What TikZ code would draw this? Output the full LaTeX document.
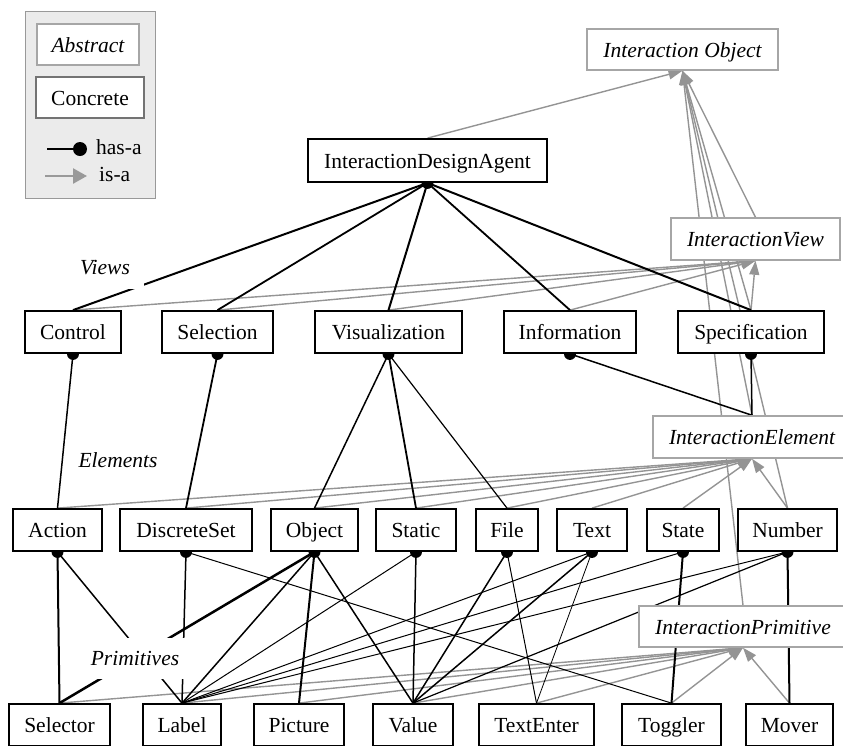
\documentclass[tikz,border=0pt]{standalone}
\usepackage{fontspec}
\setmainfont{Liberation Serif}
\usetikzlibrary{arrows.meta, backgrounds}

\begin{document}
\begin{tikzpicture}[
    x=1pt, y=-1pt,
    every node/.style={font=\fontsize{21.5}{24}\selectfont},
    concrete/.style={rectangle, draw=black, line width=1.8pt, fill=white, minimum height=42pt, inner sep=0pt, text height=18pt, text depth=3pt},
    abstract/.style={rectangle, draw=black!35, line width=1.5pt, fill=white, minimum height=42pt, inner sep=0pt, text height=18pt, text depth=3pt, font=\fontsize{21.5}{24}\selectfont\itshape},
    isa/.style={-{Triangle[length=14pt, width=10pt]}, draw=black!42, line width=1.4pt},
    tag/.style={fill=white, inner xsep=14pt, minimum height=41pt, font=\fontsize{21.5}{24}\selectfont\itshape}
]
    \useasboundingbox (0,0) rectangle (843,745);

    % Legend
    \node[rectangle, draw=black!40, line width=1pt, fill=black!8, minimum width=130pt, minimum height=187pt] (legend) at (90,104.5) {};
    \node[abstract, minimum width=102pt, minimum height=41pt] (abs) at (88,44.5) {Abstract};
    \node[concrete, draw=black!55, line width=1.5pt, minimum width=108pt, minimum height=41pt] (con) at (90,97.5) {Concrete};
    \coordinate (hasaA) at (47,149);
    \coordinate (hasaB) at (80,149);
    \coordinate (isaA) at (45,176);
    \coordinate (isaB) at (87,176);
    \node[anchor=west, inner sep=0pt] (hasatxt) at (96,147) {has-a};
    \node[anchor=west, inner sep=0pt] (isatxt) at (99,174) {is-a};
    \draw[line width=1.2pt] (hasaA) -- (hasaB);
    \fill (hasaB) circle (7pt);
    \draw[-{Triangle[length=14pt, width=15pt]}, draw=black!40, line width=2.5pt] (isaA) -- (isaB);

    % Top of the hierarchy
    \node[abstract, minimum width=191pt, minimum height=41pt] (iobj) at (682.5,49.5) {Interaction Object};
    \node[concrete, minimum width=239pt, minimum height=43pt] (ida) at (427.5,160.5) {InteractionDesignAgent};

    % Views
    \node[abstract, minimum width=169pt] (iview) at (755.5,239) {InteractionView};
    \node[concrete, minimum width=96pt] (ctrl) at (73,332) {Control};
    \node[concrete, minimum width=111pt] (sel) at (217.5,332) {Selection};
    \node[concrete, minimum width=147pt] (vis) at (388.5,332) {Visualization};
    \node[concrete, minimum width=132pt] (info) at (570,332) {Information};
    \node[concrete, minimum width=146pt] (spec) at (751,332) {Specification};

    % Elements
    \node[abstract, minimum width=198pt] (ielem) at (752,437) {InteractionElement};
    \node[concrete, minimum width=89pt] (action) at (57.5,530) {Action};
    \node[concrete, minimum width=132pt] (dset) at (186,530) {DiscreteSet};
    \node[concrete, minimum width=87pt] (obj) at (314.5,530) {Object};
    \node[concrete, minimum width=80pt] (stat) at (416,530) {Static};
    \node[concrete, minimum width=62pt] (file) at (507,530) {File};
    \node[concrete, minimum width=70pt] (txt) at (592,530) {Text};
    \node[concrete, minimum width=72pt] (state) at (683,530) {State};
    \node[concrete, minimum width=99pt] (num) at (787.5,530) {Number};

    % Primitives
    \node[abstract, minimum width=208pt, minimum height=41pt] (iprim) at (743,626.5) {InteractionPrimitive};
    \node[concrete, minimum width=101pt] (selr) at (59.5,725) {Selector};
    \node[concrete, minimum width=78pt] (lbl) at (182,725) {Label};
    \node[concrete, minimum width=90pt] (pic) at (299,725) {Picture};
    \node[concrete, minimum width=80pt] (val) at (413,725) {Value};
    \node[concrete, minimum width=115pt] (tenter) at (536.5,725) {TextEnter};
    \node[concrete, minimum width=99pt] (toggler) at (671.5,725) {Toggler};
    \node[concrete, minimum width=87pt] (mover) at (789.5,725) {Mover};

    % Layer names
    \node[tag] (views) at (105,268) {Views};
    \node[tag] (elements) at (118,460) {Elements};
    \node[tag] (prims) at (135,658) {Primitives};

    \begin{pgfonlayer}{background}
        % is-a
        \foreach \n in {ida, iview, ielem, iprim, spec, num}
            \draw[isa] (\n.north) -- (iobj.south);
        \foreach \n in {ctrl, sel, vis, info, spec}
            \draw[isa] (\n.north) -- (iview.south);
        \foreach \n in {action, dset, obj, stat, file, txt, state, num}
            \draw[isa] (\n.north) -- (ielem.south);
        \foreach \n in {selr, lbl, pic, val, tenter, toggler, mover}
            \draw[isa] (\n.north) -- (iprim.south);

        % has-a
        \foreach \s/\t/\w in {ida/ctrl/2, ida/sel/1.8, ida/vis/2, ida/info/1.8, ida/spec/2,
                ctrl/action/1.5, sel/dset/1.8, vis/obj/1.5, vis/stat/1.8, vis/file/1.2,
                info/ielem/1.5, spec/ielem/1.5,
                action/selr/2, action/lbl/1.5, dset/lbl/1.5, dset/toggler/1,
                obj/selr/2.5, obj/lbl/1.5, obj/pic/2, obj/val/1.5,
                stat/lbl/1, stat/val/1.5, file/val/1.5, file/tenter/1,
                txt/lbl/1, txt/val/1.5, txt/tenter/0.8,
                state/lbl/1, state/toggler/2, num/lbl/1, num/val/1.2, num/mover/2}
            \draw[line width=\w pt] (\s.south) -- (\t.north);
        \foreach \s in {ida, ctrl, sel, vis, info, spec, action, dset, obj, stat, file, txt, state, num}
            \fill (\s.south) circle (6pt);
    \end{pgfonlayer}
\end{tikzpicture}
\end{document}
